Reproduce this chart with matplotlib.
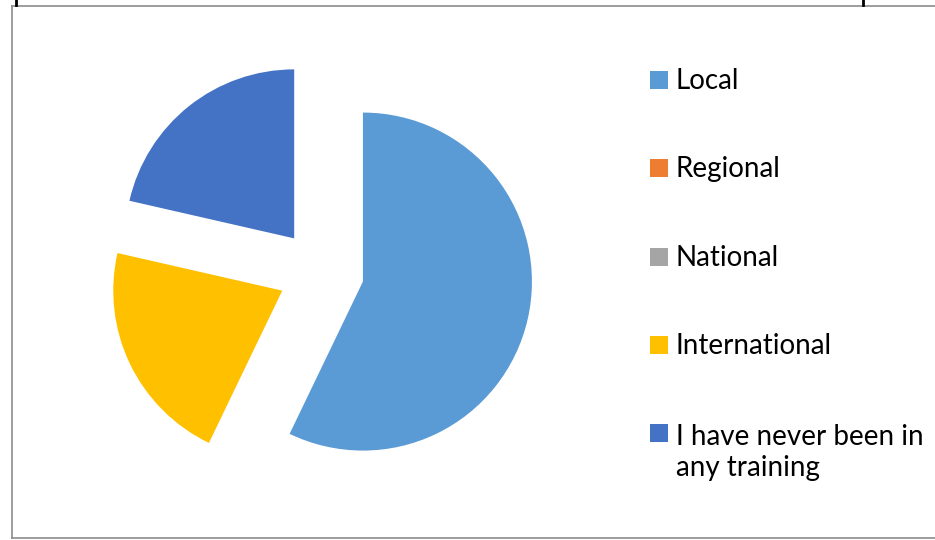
import textwrap
import matplotlib
matplotlib.use("Agg")
import matplotlib.pyplot as plt
from matplotlib.patches import Rectangle
from matplotlib.lines import Line2D

# training level shares (counts)
labels = ["Local", "Regional", "National", "International",
          "I have never been in any training"]
values = [8, 0, 0, 3, 3]
colors = ["#5B9BD5", "#ED7D31", "#A5A5A5", "#FFC000", "#4472C4"]

W, H = 935, 540
fig = plt.figure(figsize=(W / 100, H / 100), dpi=100)
ax = fig.add_axes([0, 0, 1, 1])

ax.pie(values, colors=colors, startangle=90, counterclock=False,
       explode=[43] * len(values), center=(321, H - 272), radius=169)
ax.set_xlim(0, W)
ax.set_ylim(0, H)
ax.set_aspect("equal")
ax.axis("off")

# chart frame (pixel coords, y up)
gray = "#8c8c8c"
ax.add_line(Line2D([12, 12], [H - 6, H - 538], color=gray, lw=1.2))
ax.add_line(Line2D([12, W], [H - 538, H - 538], color=gray, lw=1.2))
ax.add_line(Line2D([12, W], [H - 6, H - 6], color=gray, lw=1.2))
ax.add_line(Line2D([15.5, 15.5], [H, H - 5], color="black", lw=2))
ax.add_line(Line2D([863, 863], [H, H - 5], color="black", lw=2))

# legend
fs, ls = 20, 1.2
pitch = fs * ls * 100 / 72
for i, (lab, c) in enumerate(zip(labels, colors)):
    yb = 89 + i * 88.3
    txt = textwrap.fill(lab, 20)
    n = txt.count("\n")
    ax.add_patch(Rectangle((650, H - yb), 18, 18, color=c, lw=0))
    ax.text(676, H - yb - n * pitch, txt, fontsize=fs,
            family="Lato", va="baseline", ha="left",
            linespacing=ls, color="black")

fig.savefig("out.png", dpi=100)
